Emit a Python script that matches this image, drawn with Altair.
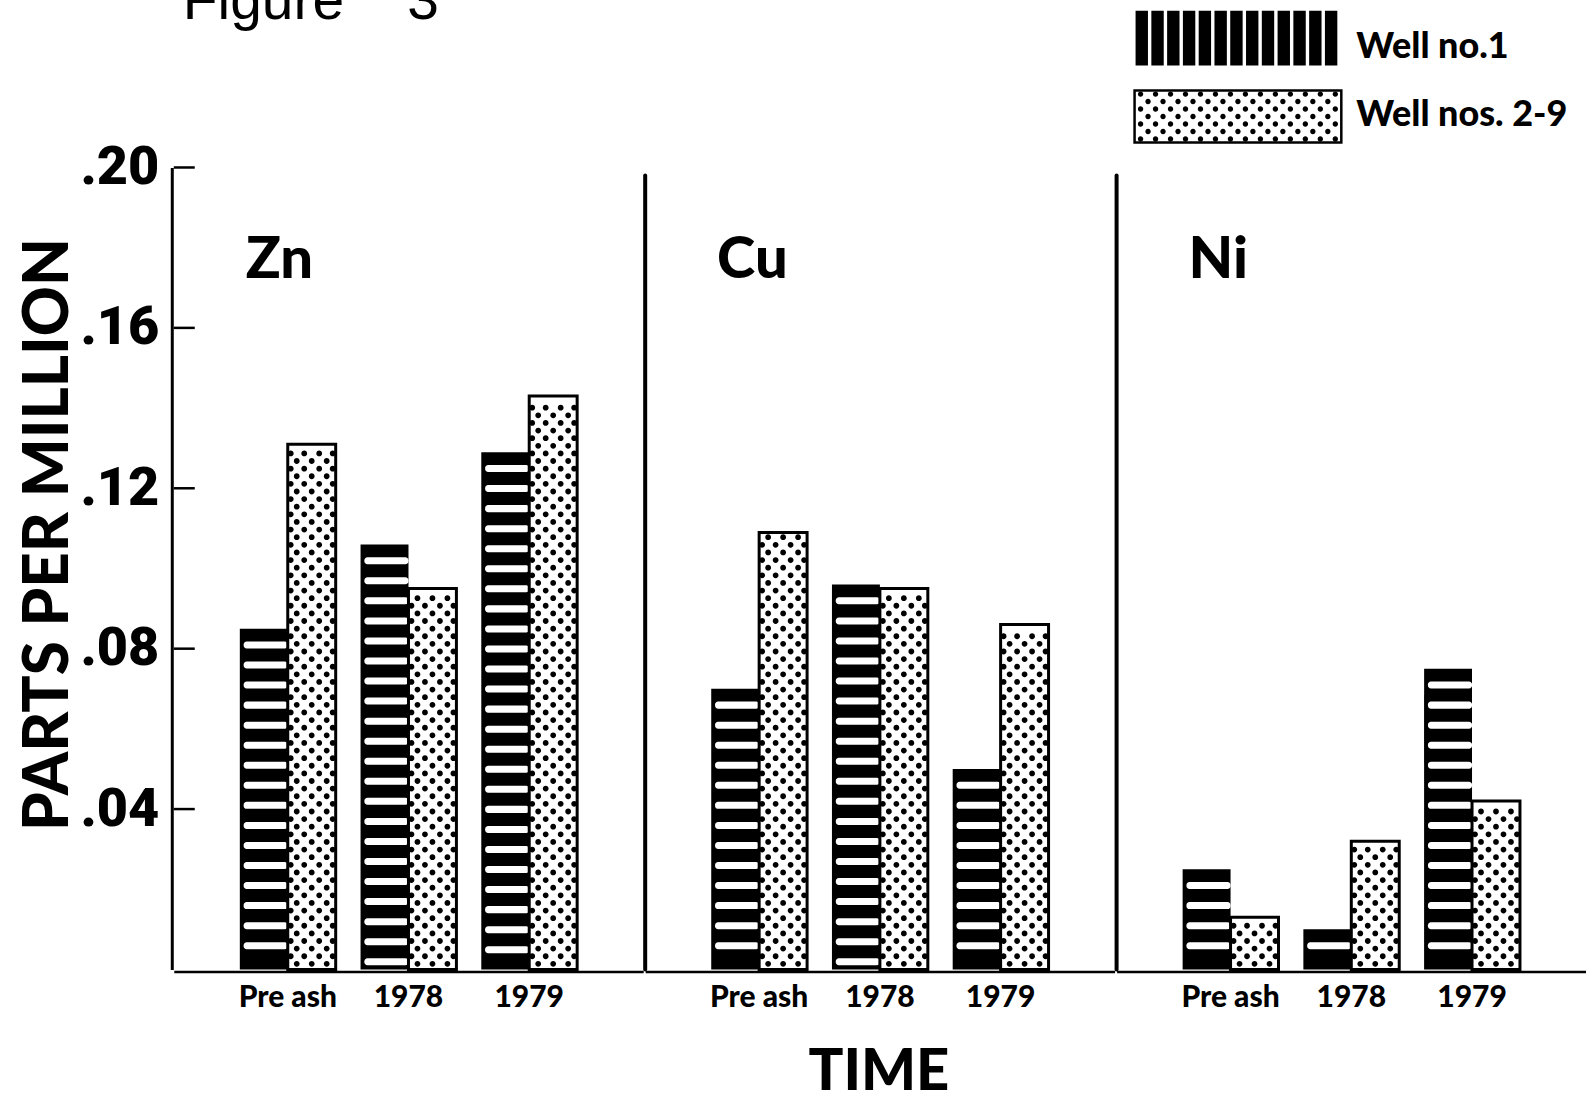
import json
import altair as alt
import pandas as pd

# ---------------- data ----------------
metals = ["Zn", "Cu", "Ni"]
times = ["Pre ash", "1978", "1979"]
wells = ["Well no.1", "Well nos. 2-9"]
well1_ppm = {"Zn": [0.085, 0.106, 0.129], "Cu": [0.070, 0.096, 0.050], "Ni": [0.025, 0.010, 0.075]}
well2_ppm = {"Zn": [0.131, 0.095, 0.143], "Cu": [0.109, 0.095, 0.086], "Ni": [0.013, 0.032, 0.042]}
y_ticks = [0.04, 0.08, 0.12, 0.16, 0.20]
y_tick_labels = [".04", ".08", ".12", ".16", ".20"]
separator_top = 0.198
figure_label = "Figure\u00a0\u00a0\u00a0\u00a03"
x_title = "TIME"
y_title = "PARTS PER MILLION"

rows = []
for m in metals:
    for i, t in enumerate(times):
        rows.append(dict(kind="bar", metal=m, time=t, well=wells[0], value=well1_ppm[m][i], label=""))
        rows.append(dict(kind="bar", metal=m, time=t, well=wells[1], value=well2_ppm[m][i], label=""))
    rows.append(dict(kind="label", metal=m, time="", well="", value=0.0, label=m))
for v in y_ticks:
    rows.append(dict(kind="tick", metal=metals[0], time="", well="", value=v, label=""))
for m in metals[1:]:
    rows.append(dict(kind="sep", metal=m, time="", well="", value=separator_top, label=""))
for w in wells:
    rows.append(dict(kind="legend", metal=metals[2], time="", well=w, value=0.0, label=w))
rows.append(dict(kind="fig", metal=metals[0], time="", well="", value=0.0, label=figure_label))
df = pd.DataFrame(rows)

# ---------------- style ----------------
PANEL_W = 470
PANEL_H = 803
FONT = "Lato"
NUM_FONT = "Roboto, Liberation Sans"

yscale = alt.Scale(domain=[0, 0.2], nice=False, zero=True)
xscale = alt.Scale(domain=times, paddingInner=0.206, paddingOuter=0.547)
oscale = alt.Scale(domain=wells, paddingInner=0, paddingOuter=0)


def circle(cx, cy, r):
    return f"M{cx - r:.2f},{cy:.2f}a{r},{r} 0 1,0 {2 * r},0a{r},{r} 0 1,0 {-2 * r},0Z"


# dot rows for the stippled bars (path units = pixels because size=4)
R = 2.9
dot_row_a = "".join(circle(x, 0, R) for x in (-15, 0, 15))
dot_row_b = "".join(circle(x, 0, R) for x in (-21, -7.5, 7.5, 21))

# legend glyphs
stripe_path = "".join(
    f"M{-102.5 + i * 15.8:.2f},-27.5h12.4v55h-12.4Z" for i in range(13)
)
legend_dots = []
for j, yy in enumerate([-22.5, -15, -7.5, 0, 7.5, 15, 22.5]):
    start = -97.5 if j % 2 == 0 else -90
    x = start
    while x <= 98:
        legend_dots.append(circle(x, yy, 2.7))
        x += 15
legend_dot_path = "".join(legend_dots)

label_expr = f"{json.dumps(y_tick_labels)}[indexof({json.dumps(y_ticks)}, datum.value)]"

x_axis = alt.Axis(title=None, ticks=False, domainColor="black", domainWidth=2.5,
                  labelFont=FONT, labelFontSize=30, labelFontWeight=900,
                  labelColor="black", labelPadding=11, labelAngle=0)
y_axis = alt.Axis(values=y_ticks, labelExpr=label_expr, ticks=False, grid=False,
                  domainColor="black", domainWidth=3,
                  labelFont=NUM_FONT, labelFontSize=54, labelFontWeight=900,
                  labelColor="black", labelPadding=13,
                  title=y_title, titleFont=FONT, titleFontSize=62,
                  titleFontWeight=900, titleColor="black",
                  titleBaseline="alphabetic", titleX=-104, titleY=367)

x_enc = alt.X("time:N", sort=times, scale=xscale, axis=x_axis)
off_enc = alt.XOffset("well:N", sort=wells, scale=oscale)


def yq(field):
    return alt.Y(field, scale=yscale, axis=y_axis)


is_bar = alt.datum.kind == "bar"

black_bars = (
    alt.Chart()
    .transform_filter(is_bar & (alt.datum.well == wells[0]))
    .mark_bar(color="black")
    .encode(x=x_enc, xOffset=off_enc, y=yq("value:Q"))
)

stripe_gaps = (
    alt.Chart()
    .transform_filter(is_bar & (alt.datum.well == wells[0]))
    .transform_calculate(k="sequence(0, floor(datum.value / 0.005) + 1)")
    .transform_flatten(["k"])
    .transform_calculate(g1="datum.value - 0.0032 - datum.k * 0.005")
    .transform_calculate(g0="datum.g1 - 0.00175")
    .transform_filter("datum.g0 > 0.0004")
    .mark_bar(color="white", width=alt.RelativeBandSize(0.92), cornerRadius=3)
    .encode(x=x_enc, xOffset=off_enc, y=yq("g0:Q"), y2="g1:Q")
)

stipple_bars = (
    alt.Chart()
    .transform_filter(is_bar & (alt.datum.well == wells[1]))
    .mark_bar(fill="white", stroke="black", strokeWidth=3)
    .encode(x=x_enc, xOffset=off_enc, y=yq("value:Q"))
)

stipple_dots = (
    alt.Chart()
    .transform_filter(is_bar & (alt.datum.well == wells[1]))
    .transform_calculate(k="sequence(0, floor((datum.value - 0.0025) / 0.0019) + 1)")
    .transform_flatten(["k"])
    .transform_calculate(dy="0.0014 + datum.k * 0.0019",
                         row="datum.k % 2 == 0 ? 'a' : 'b'")
    .mark_point(filled=True, size=4, color="black", opacity=1, strokeWidth=0)
    .encode(x=x_enc, xOffset=off_enc, y=yq("dy:Q"),
            shape=alt.Shape("row:N", scale=alt.Scale(domain=["a", "b"], range=[dot_row_a, dot_row_b]),
                            legend=None))
)

ticks = (
    alt.Chart()
    .transform_filter(alt.datum.kind == "tick")
    .mark_rule(color="black", strokeWidth=2.5)
    .encode(y=yq("value:Q"), x=alt.value(0), x2=alt.value(21))
)

separators = (
    alt.Chart()
    .transform_filter(alt.datum.kind == "sep")
    .mark_rule(color="black", strokeWidth=4, strokeCap="round")
    .encode(y=yq("value:Q"), y2=alt.datum(0), x=alt.value(0))
)

panel_labels = (
    alt.Chart()
    .transform_filter(alt.datum.kind == "label")
    .mark_text(font=FONT, fontSize=58, fontWeight=900, align="left", baseline="middle", color="black")
    .encode(text="label:N", x=alt.value(72), y=alt.value(94))
)

legend_stripes = (
    alt.Chart()
    .transform_filter((alt.datum.kind == "legend") & (alt.datum.well == wells[0]))
    .mark_point(shape=stripe_path, size=4, filled=True, color="black", opacity=1, strokeWidth=0)
    .encode(x=alt.value(121.5), y=alt.value(-129.5))
)
legend_box = (
    alt.Chart()
    .transform_filter((alt.datum.kind == "legend") & (alt.datum.well == wells[1]))
    .mark_rect(fill="white", stroke="black", strokeWidth=2.5)
    .encode(x=alt.value(18), x2=alt.value(225), y=alt.value(-77), y2=alt.value(-25))
)
legend_dots_mark = (
    alt.Chart()
    .transform_filter((alt.datum.kind == "legend") & (alt.datum.well == wells[1]))
    .mark_point(shape=legend_dot_path, size=4, filled=True, color="black", opacity=1, strokeWidth=0)
    .encode(x=alt.value(121.5), y=alt.value(-51))
)
legend_text1 = (
    alt.Chart()
    .transform_filter((alt.datum.kind == "legend") & (alt.datum.well == wells[0]))
    .mark_text(font=FONT, fontSize=36, fontWeight=900, align="left", baseline="middle", color="black")
    .encode(text="label:N", x=alt.value(240), y=alt.value(-121))
)
legend_text2 = (
    alt.Chart()
    .transform_filter((alt.datum.kind == "legend") & (alt.datum.well == wells[1]))
    .mark_text(font=FONT, fontSize=36, fontWeight=900, align="left", baseline="middle", color="black")
    .encode(text="label:N", x=alt.value(240), y=alt.value(-53))
)

fig_text = (
    alt.Chart()
    .transform_filter(alt.datum.kind == "fig")
    .mark_text(font="Liberation Sans", fontSize=57, align="left", baseline="alphabetic", color="black")
    .encode(text="label:N", x=alt.value(9), y=alt.value(-149))
)

panel = alt.layer(
    black_bars, stripe_gaps, stipple_bars, stipple_dots, ticks, separators,
    panel_labels, legend_stripes, legend_box, legend_dots_mark, legend_text1, legend_text2, fig_text,
).properties(width=PANEL_W, height=PANEL_H)

chart = (
    panel.facet(
        column=alt.Column(
            "metal:N", sort=metals,
            header=alt.Header(labels=False, title=x_title, titleOrient="bottom", titleFont=FONT,
                              titleFontSize=58, titleFontWeight=900, titleColor="black",
                              titlePadding=22),
        ),
        data=df,
        spacing=0,
    )
    .properties(padding={"left": 18, "top": -28, "right": 0, "bottom": 0}, background="white")
    .configure_view(strokeWidth=0)
)

chart.save("out.html", embed_options={"renderer": "svg", "actions": False})
